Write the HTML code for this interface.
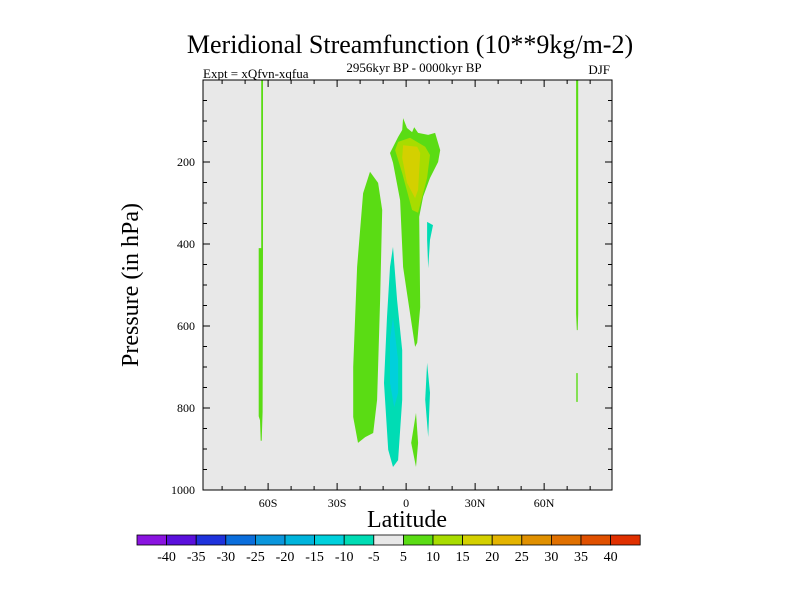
<!DOCTYPE html>
<html><head><meta charset="utf-8"><style>
body{margin:0;background:#fff;}
svg{display:block;font-family:"Liberation Serif",serif;}
</style></head><body>
<svg id="c" width="800" height="600">
<text x="410" y="53" text-anchor="middle" font-size="26">Meridional Streamfunction (10**9kg/m-2)</text>
<text x="203" y="78" font-size="13">Expt = xQfvn-xqfua</text>
<text x="414" y="72" text-anchor="middle" font-size="13">2956kyr BP - 0000kyr BP</text>
<text x="610" y="74" text-anchor="end" font-size="13">DJF</text>
<rect x="203" y="80" width="409" height="410" fill="#e8e8e8"/>
<g id="marks"></g>
<rect x="203" y="80" width="409" height="410" fill="none" stroke="#000" stroke-width="1"/>
<g id="axes"></g>
<text x="407" y="527" text-anchor="middle" font-size="24">Latitude</text>
<text transform="translate(138,285) rotate(-90)" text-anchor="middle" font-size="24">Pressure (in hPa)</text>
<g id="cbar"></g>
</svg>
<script>
const NS="http://www.w3.org/2000/svg";
const latMin=-88.3, latMax=89.5, pMin=0, pMax=1000;
const X0=203,X1=612,Y0=80,Y1=490;
function xs(l){return X0+(l-latMin)/(latMax-latMin)*(X1-X0);}
function ys(p){return Y0+(p-pMin)/(pMax-pMin)*(Y1-Y0);}
const levelColors=["#8a14e0","#5a10dc","#1e32dc","#0a6edc","#0a96dc","#00b4dc","#00d0dc","#00dcb4","#e8e8e8","#5adc14","#a8dc00","#d4d000","#e4b400","#e09000","#e07000","#e05000","#e03000"];
const levelLabels=[-40,-35,-30,-25,-20,-15,-10,-5,5,10,15,20,25,30,35,40];
const xTicks=[-60,-30,0,30,60];
const xTickLabels=["60S","30S","0","30N","60N"];
const yTicks=[200,400,600,800,1000];
const bigGreen=[[-15.7,224],[-12.2,251],[-10.4,317],[-11.3,537],[-12.6,780],[-14.3,861],[-17.8,871],[-20.9,885],[-23.0,822],[-23.0,700],[-21.3,456],[-18.7,276]];
const upperGreen=[[-1.3,93],[0.4,117],[2.6,127],[3.5,115],[5.2,129],[9.6,134],[12.6,129],[14.8,171],[13.9,200],[10.4,239],[7.4,285],[5.7,334],[6.1,554],[4.8,641],[3.9,651],[0.4,520],[-1.3,456],[-2.6,293],[-5.7,202],[-7.0,178],[-3.5,139],[-1.7,122]];
const upperLime=[[-3.5,151],[1.7,141],[8.3,163],[10.4,183],[9.1,239],[5.2,324],[2.6,317],[-1.7,227],[-4.8,171]];
const upperYellow=[[-1.3,159],[4.8,163],[6.1,178],[5.2,268],[3.9,288],[0.4,251],[-1.7,190]];
const cyanBlob=[[-5.7,407],[-3.9,537],[-1.7,659],[-1.7,780],[-3.5,927],[-5.7,944],[-7.8,902],[-9.6,739],[-8.3,578],[-7.0,456]];
const cyanCore=[[-5.7,578],[-3.5,683],[-3.5,763],[-5.2,798],[-7.0,739],[-7.0,634]];
const cyanSmallTop=[[9.1,346],[11.7,354],[10.4,390],[9.6,459],[9.1,390]];
const cyanSmallBot=[[9.1,690],[10.4,763],[9.6,871],[8.3,780]];
const greenSmallBot=[[4.3,812],[5.2,885],[4.3,944],[2.2,885]];
const leftLine=[[-63.0,0],[-62.2,0],[-62.2,410],[-62.4,810],[-62.8,880],[-63.2,880],[-63.5,830],[-64.1,820],[-64.1,410],[-63.0,410]];
const rightLine=[[73.9,0],[74.8,0],[74.8,570],[74.6,610],[74.2,610],[73.9,570]];
const rightSeg=[[74.0,715],[74.6,715],[74.6,785],[74.0,785]];
const regions=[[9,bigGreen,"contour-left-positive"],[9,upperGreen,"contour-equator-positive"],[10,upperLime,"contour-equator-10"],[11,upperYellow,"contour-equator-15"],[7,cyanBlob,"contour-negative"],[6,cyanCore,"contour-negative-core"],[7,cyanSmallTop,"contour-small-negative-top"],[7,cyanSmallBot,"contour-small-negative-bottom"],[9,greenSmallBot,"contour-small-positive-bottom"],[9,leftLine,"contour-63s-line"],[9,rightLine,"contour-75n-line"],[9,rightSeg,"contour-75n-segment"]];
const marks=document.getElementById('marks');
regions.forEach(r=>{
  const pg=document.createElementNS(NS,'polygon');
  pg.setAttribute('points',r[1].map(q=>xs(q[0]).toFixed(1)+','+ys(q[1]).toFixed(1)).join(' '));
  pg.setAttribute('fill',levelColors[r[0]]);
  
  
  marks.appendChild(pg);
});
const ax=document.getElementById('axes');
function line(x1,y1,x2,y2,name){const l=document.createElementNS(NS,'line');l.setAttribute('x1',x1);l.setAttribute('y1',y1);l.setAttribute('x2',x2);l.setAttribute('y2',y2);l.setAttribute('stroke','#000');


ax.appendChild(l);}
function txt(x,y,s,anchor,size,name,parent){const t=document.createElementNS(NS,'text');t.setAttribute('x',x);t.setAttribute('y',y);t.setAttribute('text-anchor',anchor);t.setAttribute('font-size',size);t.textContent=s;


(parent||ax).appendChild(t);}
for(let l=-80;l<=80;l+=10){const x=xs(l);const maj=l%30===0;line(x,Y1,x,Y1-(maj?7:4),'x-tick');line(x,Y0,x,Y0+(maj?7:4),'x-tick-top');}
xTicks.forEach((l,i)=>txt(xs(l),Y1+17,xTickLabels[i],'middle',12,'x-tick-label'));
for(let p=50;p<1000;p+=50){const y=ys(p);const maj=p%200===0;line(X0,y,X0+(maj?7:4),y,'y-tick');line(X1,y,X1-(maj?7:4),y,'y-tick-right');}
yTicks.forEach(p=>txt(X0-8,ys(p)+4,String(p),'end',12,'y-tick-label'));
const cb=document.getElementById('cbar');
const cbX=137,cbW=29.6,cbY=535,cbH=10;
levelColors.forEach((c,i)=>{const r=document.createElementNS(NS,'rect');r.setAttribute('x',cbX+i*cbW);r.setAttribute('y',cbY);r.setAttribute('width',cbW);r.setAttribute('height',cbH);r.setAttribute('fill',c);r.setAttribute('stroke','#000');r.setAttribute('stroke-width','0.8');


cb.appendChild(r);});
levelLabels.forEach((v,i)=>txt(cbX+(i+1)*cbW,cbY+26,String(v),'middle',14,'colorbar-label',cb));
</script>
</body></html>
